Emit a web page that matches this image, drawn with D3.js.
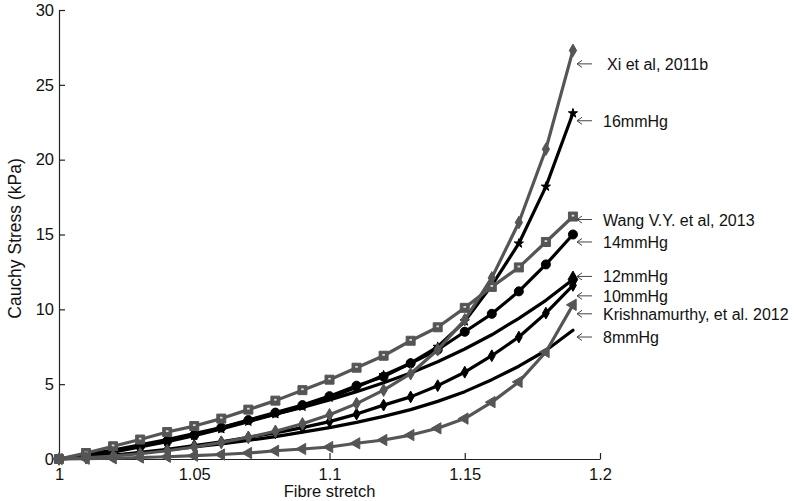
<!DOCTYPE html>
<html>
<head>
<meta charset="utf-8">
<script src="https://cdn.jsdelivr.net/npm/d3@7"></script>
<style>
  html, body { margin: 0; padding: 0; background: #fff; }
  svg { display: block; }
  text { font-family: "Liberation Sans", Arial, sans-serif; }
</style>
</head>
<body>
<svg id="chart" width="795" height="501"></svg>
<script>
// ---- data ----
const stretch = [1.00, 1.01, 1.02, 1.03, 1.04, 1.05, 1.06, 1.07, 1.08, 1.09,
                 1.10, 1.11, 1.12, 1.13, 1.14, 1.15, 1.16, 1.17, 1.18, 1.19];

const xi2011b   = [0, 0.08, 0.2, 0.35, 0.55, 0.8, 1.1, 1.45, 1.85, 2.35, 2.95, 3.7, 4.6, 5.7, 7.3, 9.3, 12.1, 15.8, 20.7, 27.3];
const p16       = [0, 0.18, 0.45, 0.8, 1.15, 1.55, 2.0, 2.5, 3.0, 3.5, 4.1, 4.8, 5.6, 6.4, 7.5, 9.2, 11.6, 14.4, 18.2, 23.1];
const wang2013  = [0, 0.4, 0.85, 1.3, 1.8, 2.2, 2.7, 3.3, 3.9, 4.6, 5.3, 6.1, 6.9, 7.9, 8.8, 10.1, 11.5, 12.8, 14.5, 16.2];
const p14       = [0, 0.2, 0.5, 0.85, 1.2, 1.6, 2.1, 2.6, 3.1, 3.6, 4.2, 4.9, 5.5, 6.4, 7.3, 8.5, 9.7, 11.2, 13.0, 15.0];
const p12       = [0, 0.3, 0.6, 0.95, 1.3, 1.7, 2.1, 2.55, 3.0, 3.45, 3.95, 4.5, 5.1, 5.75, 6.5, 7.35, 8.3, 9.4, 10.6, 12.0];
const p10       = [0, 0.1, 0.25, 0.45, 0.65, 0.9, 1.15, 1.45, 1.75, 2.1, 2.5, 3.0, 3.6, 4.15, 4.9, 5.8, 6.9, 8.15, 9.75, 11.6];
const krish2012 = [0, 0.02, 0.05, 0.1, 0.15, 0.22, 0.3, 0.4, 0.55, 0.67, 0.8, 1.05, 1.27, 1.6, 2.05, 2.7, 3.8, 5.15, 7.15, 10.3];
const p8        = [0, 0.1, 0.25, 0.4, 0.6, 0.8, 1.0, 1.25, 1.5, 1.8, 2.1, 2.45, 2.85, 3.3, 3.85, 4.5, 5.3, 6.2, 7.25, 8.6];

const seriesNames  = ["Xi et al, 2011b", "16mmHg", "Wang V.Y. et al, 2013", "14mmHg", "12mmHg", "10mmHg", "Krishnamurthy, et al. 2012", "8mmHg"];
const seriesValues = [xi2011b, p16, wang2013, p14, p12, p10, krish2012, p8];
const labelStress  = [26.4, 22.6, 16.0, 14.5, 12.2, 10.9, 9.7, 8.15];

const xTicks = [1, 1.05, 1.1, 1.15, 1.2];
const xTickLabels = ["1", "1.05", "1.1", "1.15", "1.2"];
const yTicks = [0, 5, 10, 15, 20, 25, 30];
const yTickLabels = ["0", "5", "10", "15", "20", "25", "30"];

// ---- styles (kept separate from data) ----
const GRAY = "#555555";
const styles = [
  { color: GRAY,   marker: "diamond",  size: 46, every: true },
  { color: "#000", marker: "star",     size: 26, every: true },
  { color: GRAY,   marker: "square",   size: 81, every: true },
  { color: "#000", marker: "circle",   size: 64, every: true },
  { color: "#000", marker: "diamondEnd", size: 80, every: false },
  { color: "#000", marker: "diamond",  size: 40, every: true },
  { color: GRAY,   marker: "triLeft",  size: 55, every: true },
  { color: "#000", marker: "none",     size: 0,  every: false }
];

const svg = d3.select("#chart");

const x = d3.scaleLinear().domain([1, 1.2]).range([59, 600]);
const y = d3.scaleLinear().domain([0, 30]).range([459, 10]);

// axes
const xAxis = d3.axisBottom(x).tickValues(xTicks)
  .tickFormat((d, i) => xTickLabels[i]).tickSizeInner(-6).tickSizeOuter(0).tickPadding(9);
const yAxis = d3.axisLeft(y).tickValues(yTicks)
  .tickFormat((d, i) => yTickLabels[i]).tickSizeInner(-6).tickSizeOuter(0).tickPadding(5);

const gx = svg.append("g").attr("transform", `translate(0,${y(0)})`).call(xAxis);
const gy = svg.append("g").attr("transform", `translate(${x(1)},0)`).call(yAxis);
[gx, gy].forEach(g => {
  g.select(".domain").attr("stroke", "#222").attr("stroke-width", 1.2);
  g.selectAll(".tick line").attr("stroke", "#222").attr("stroke-width", 1.2);
  g.selectAll(".tick text").attr("fill", "#111").attr("font-size", 16.5)
    .attr("font-family", "Liberation Sans, Arial, sans-serif");
});

// axis titles
svg.append("text").attr("x", (x(1) + x(1.2)) / 2).attr("y", 497)
  .attr("text-anchor", "middle").attr("font-size", 16.5).attr("fill", "#111").text("Fibre stretch");
svg.append("text").attr("transform", `translate(21,${(y(0) + y(30)) / 2 + 4}) rotate(-90)`)
  .attr("text-anchor", "middle").attr("font-size", 17.5).attr("fill", "#111").text("Cauchy Stress (kPa)");

// lines
const line = d3.line().x(d => x(d[0])).y(d => y(d[1]));
const plotG = svg.append("g");

function symbolPath(type, size) {
  if (type === "diamond" || type === "diamondEnd") return d3.symbol(d3.symbolDiamond, size)();
  if (type === "star") return d3.symbol(d3.symbolStar, size)();
  if (type === "square") return d3.symbol(d3.symbolSquare, size)();
  if (type === "circle") return d3.symbol(d3.symbolCircle, size)();
  if (type === "triLeft") return d3.symbol(d3.symbolTriangle, size)();
  return null;
}

const drawOrder = [7, 4, 5, 3, 1, 6, 2, 0];
drawOrder.forEach(i => {
  const vals = seriesValues[i];
  const pts = stretch.map((s, k) => [s, vals[k]]);
  const st = styles[i];
  plotG.append("path").datum(pts).attr("d", line)
    .attr("fill", "none").attr("stroke", st.color).attr("stroke-width", 3.2)
    .attr("stroke-linejoin", "round").attr("stroke-linecap", "round");
  if (st.marker === "none") return;
  const mpts = st.every ? pts : [pts[pts.length - 1]];
  const p = symbolPath(st.marker, st.size);
  const rot = st.marker === "triLeft" ? -90 : 0;
  plotG.selectAll(null).data(mpts).enter().append("path")
    .attr("d", p)
    .attr("transform", d => `translate(${x(d[0])},${y(d[1])}) rotate(${rot})`)
    .attr("fill", st.color).attr("stroke", st.color).attr("stroke-width", 1);
  if (st.marker === "square") {
    plotG.selectAll(null).data(mpts).enter().append("rect")
      .attr("x", d => x(d[0]) - 1.3).attr("y", d => y(d[1]) - 1.8)
      .attr("width", 2.6).attr("height", 1.8).attr("fill", "#ddd");
  }
});

// annotations with arrows
const annG = svg.append("g");
seriesNames.forEach((name, i) => {
  const yy = y(labelStress[i]);
  const ax0 = 577, ax1 = 592;
  annG.append("path")
    .attr("d", `M${ax1},${yy}H${ax0}M${ax0 + 5},${yy - 3.5}L${ax0},${yy}L${ax0 + 5},${yy + 3.5}`)
    .attr("fill", "none").attr("stroke", "#444").attr("stroke-width", 1);
  annG.append("text").attr("x", i === 0 ? 607 : 603).attr("y", yy + 6)
    .attr("font-size", 16).attr("fill", "#111").text(name);
});
</script>
</body>
</html>
